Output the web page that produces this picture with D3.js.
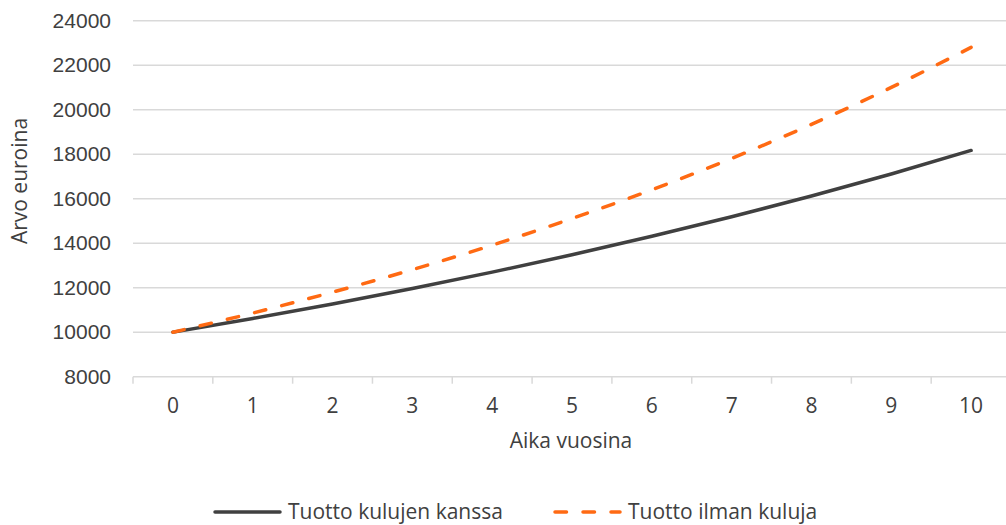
<!DOCTYPE html>
<html>
<head>
<meta charset="utf-8">
<script src="https://cdn.jsdelivr.net/npm/d3@7"></script>
<style>
	body { margin: 0; background: #fff; }
	svg { display: block; font-family: "Open Sans", sans-serif; }
	.tick text, .label, .legendText { fill: #404040; }
</style>
</head>
<body>
<div id="appChart"></div>
<script>
///////////////////////////////////////////////////////////////////////////
//////////////////////////// data /////////////////////////////////////////
///////////////////////////////////////////////////////////////////////////

const years = ["0", "1", "2", "3", "4", "5", "6", "7", "8", "9", "10"];
const withCosts = [10000, 10620, 11270, 11960, 12700, 13480, 14310, 15190, 16120, 17110, 18170];
const withoutCosts = [10000, 10860, 11800, 12810, 13910, 15110, 16400, 17810, 19340, 21000, 22800];
const yTicks = [8000, 10000, 12000, 14000, 16000, 18000, 20000, 22000, 24000];
const seriesNames = ["Tuotto kulujen kanssa", "Tuotto ilman kuluja"];

const createChart = () => {
	//////////////////////////// sizes ///////////////////////////////////
	let dimensions = {
		width: 1006,
		height: 525,
		margin: { top: 20.7, right: -5, bottom: 148.3, left: 133 }
	};
	dimensions.boundedWidth =
		dimensions.width - dimensions.margin.left - dimensions.margin.right;
	dimensions.boundedHeight =
		dimensions.height - dimensions.margin.top - dimensions.margin.bottom;

	const wrapper = d3
		.select("#appChart")
		.append("svg")
		.attr("width", dimensions.width)
		.attr("height", dimensions.height);

	const bounds = wrapper
		.append("g")
		.attr("transform", `translate(${dimensions.margin.left},${dimensions.margin.top})`);

	//////////////////////////// scales ///////////////////////////////////
	const xScale = d3
		.scaleBand()
		.domain(years)
		.range([0, dimensions.boundedWidth]);

	const yScale = d3
		.scaleLinear()
		.domain([8000, 24000])
		.range([dimensions.boundedHeight, 0]);

	const xPos = (d) => xScale(d) + xScale.bandwidth() / 2;

	//////////////////////////// grid /////////////////////////////////////
	bounds
		.append("g")
		.selectAll("line")
		.data(yTicks.slice(1))
		.join("line")
		.attr("x1", 0)
		.attr("x2", dimensions.boundedWidth)
		.attr("y1", (d) => yScale(d))
		.attr("y2", (d) => yScale(d))
		.attr("stroke", "#d9d9d9")
		.attr("stroke-width", 1.5);

	//////////////////////////// axes /////////////////////////////////////
	const yAxis = bounds
		.append("g")
		.call(
			d3.axisLeft(yScale)
				.tickValues(yTicks)
				.tickFormat(d3.format("d"))
				.tickSize(0)
				.tickPadding(22)
		);
	yAxis.select(".domain").remove();
	yAxis.selectAll("text")
		.attr("font-size", 21)
		.attr("dy", "0.32em");

	// category boundaries for tick marks
	const boundaries = years.map((d) => xScale(d)).concat([dimensions.boundedWidth]);

	const xAxis = bounds
		.append("g")
		.attr("transform", `translate(0,${dimensions.boundedHeight})`);
	xAxis
		.append("line")
		.attr("x1", 0)
		.attr("x2", dimensions.boundedWidth)
		.attr("stroke", "#d9d9d9")
		.attr("stroke-width", 1.5);
	xAxis
		.selectAll(".tickMark")
		.data(boundaries)
		.join("line")
		.attr("class", "tickMark")
		.attr("x1", (d) => d)
		.attr("x2", (d) => d)
		.attr("y1", 0)
		.attr("y2", 7)
		.attr("stroke", "#d9d9d9")
		.attr("stroke-width", 1.5);
	xAxis
		.selectAll(".tickLabel")
		.data(years)
		.join("text")
		.attr("class", "label")
		.attr("x", (d) => xPos(d))
		.attr("y", 36)
		.attr("text-anchor", "middle")
		.attr("font-size", 21)
		.text((d) => d);

	// axis titles
	wrapper
		.append("text")
		.attr("class", "label")
		.attr("x", 571)
		.attr("y", 448)
		.attr("text-anchor", "middle")
		.attr("font-size", 21)
		.text("Aika vuosina");

	wrapper
		.append("text")
		.attr("class", "label")
		.attr("transform", "translate(27,181) rotate(-90)")
		.attr("text-anchor", "middle")
		.attr("font-size", 21)
		.text("Arvo euroina");

	//////////////////////////// lines ////////////////////////////////////
	const lineGenerator = d3
		.line()
		.x((d, i) => xPos(years[i]))
		.y((d) => yScale(d))
		.curve(d3.curveMonotoneX);

	bounds
		.append("path")
		.datum(withCosts)
		.attr("d", lineGenerator)
		.attr("fill", "none")
		.attr("stroke", "#404040")
		.attr("stroke-width", 3.5)
		.attr("stroke-linecap", "round");

	bounds
		.append("path")
		.datum(withoutCosts)
		.attr("d", lineGenerator)
		.attr("fill", "none")
		.attr("stroke", "#ff6a13")
		.attr("stroke-width", 3.5)
		.attr("stroke-linecap", "round")
		.attr("stroke-dasharray", "11.5,16.5");

	//////////////////////////// legend ///////////////////////////////////
	const legendItems = [
		{ name: seriesNames[0], x: 213, color: "#404040", dash: null },
		{ name: seriesNames[1], x: 553, color: "#ff6a13", dash: "11.5,16.5" }
	];

	const legend = wrapper
		.selectAll(".legend")
		.data(legendItems)
		.join("g")
		.attr("class", "legend")
		.attr("transform", (d) => `translate(${d.x},512)`);

	legend
		.append("line")
		.attr("x1", 2)
		.attr("x2", 67)
		.attr("stroke", (d) => d.color)
		.attr("stroke-width", 3.5)
		.attr("stroke-linecap", "round")
		.attr("stroke-dasharray", (d) => d.dash);

	legend
		.append("text")
		.attr("class", "legendText")
		.attr("x", 75)
		.attr("y", 7)
		.attr("font-size", 21)
		.text((d) => d.name);
};

createChart();
</script>
</body>
</html>
